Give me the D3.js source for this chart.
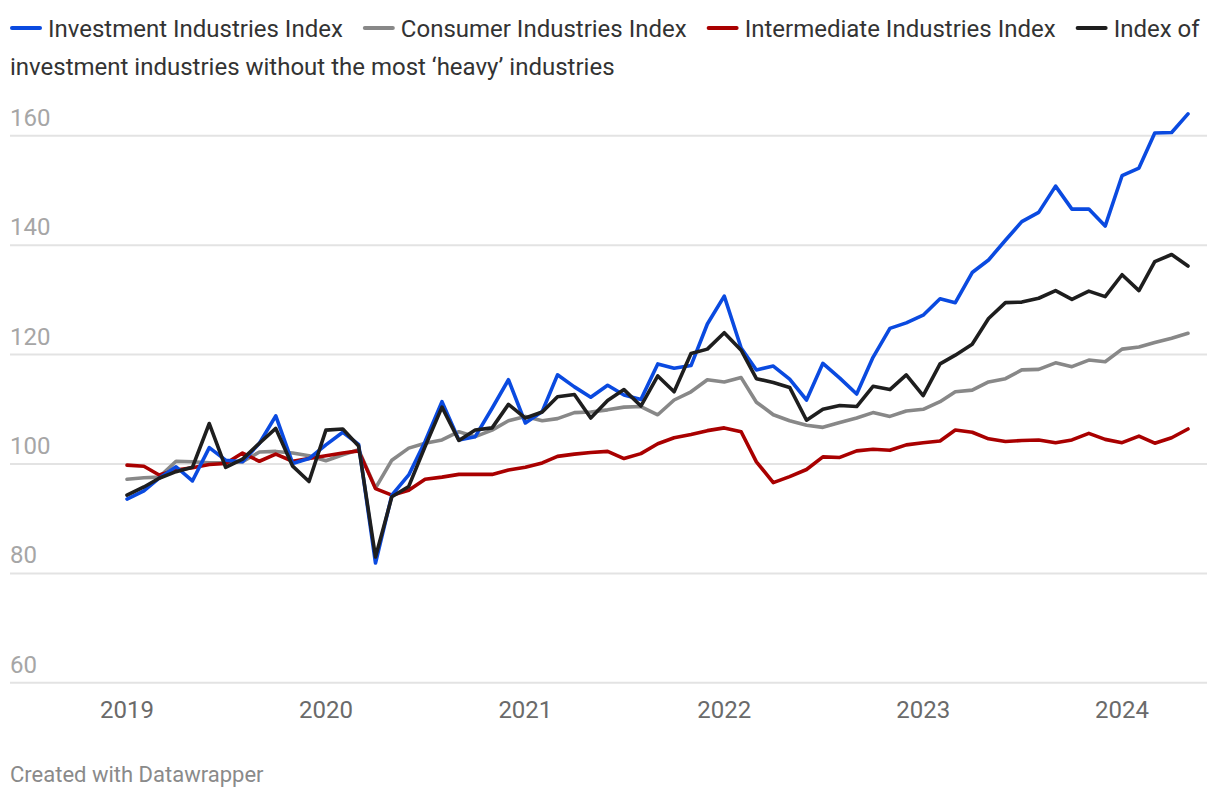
<!DOCTYPE html>
<html>
<head>
<meta charset="utf-8">
<script src="https://cdn.jsdelivr.net/npm/d3@7"></script>
<style>
  html, body { margin: 0; padding: 0; background: #fff; }
  svg { display: block; }
  text { font-family: Roboto, "Noto Sans", sans-serif; }
</style>
</head>
<body>
<svg id="chart" width="1220" height="800"></svg>
<script>
// ---- data ----
const startMonth = "2019-01";
const investment = [93.6,95.1,97.4,99.5,96.9,103.0,100.7,100.4,103.8,108.8,100.1,101.0,103.5,105.8,103.6,81.9,94.3,98.0,104.1,111.4,104.4,105.0,110.2,115.4,107.5,109.6,116.3,114.1,112.2,114.4,112.6,111.8,118.3,117.5,118.0,125.6,130.7,121.2,117.2,117.9,115.5,111.7,118.4,115.7,112.8,119.5,124.8,125.8,127.2,130.2,129.5,135.0,137.3,140.9,144.3,146.0,150.8,146.6,146.6,143.5,152.7,154.1,160.5,160.6,164.0];
const consumer = [97.2,97.5,97.6,100.5,100.4,100.2,100.2,100.4,102.2,102.3,102.0,101.5,100.6,101.7,102.6,95.6,100.7,102.9,103.8,104.4,105.9,105.0,106.2,107.9,108.7,107.9,108.3,109.4,109.5,109.9,110.4,110.5,109.0,111.7,113.2,115.4,115.0,115.8,111.3,109.0,107.9,107.1,106.7,107.6,108.4,109.4,108.7,109.7,110.0,111.4,113.2,113.5,115.0,115.6,117.2,117.3,118.5,117.8,119.0,118.7,121.0,121.4,122.2,123.0,123.9];
const intermediate = [99.8,99.6,98.0,98.9,99.3,99.9,100.1,102.0,100.5,101.8,100.5,101.0,101.5,102.0,102.4,95.5,94.3,95.2,97.2,97.6,98.1,98.1,98.1,98.9,99.4,100.2,101.4,101.8,102.1,102.3,101.0,101.9,103.7,104.8,105.4,106.1,106.6,105.9,100.4,96.6,97.7,99.0,101.3,101.2,102.4,102.7,102.5,103.5,103.9,104.2,106.2,105.8,104.6,104.1,104.3,104.4,103.9,104.4,105.6,104.5,103.9,105.1,103.8,104.8,106.4];
const withoutHeavy = [94.3,95.8,97.4,98.6,99.4,107.4,99.4,100.9,103.8,106.5,99.6,96.8,106.2,106.4,103.3,83.0,94.0,95.9,103.2,110.4,104.3,106.2,106.6,110.9,108.4,109.5,112.3,112.7,108.4,111.6,113.6,110.6,116.1,113.2,120.2,121.0,124.0,120.8,115.6,114.9,114.0,108.0,110.0,110.7,110.5,114.2,113.6,116.3,112.5,118.3,119.9,121.9,126.6,129.5,129.6,130.3,131.7,130.1,131.6,130.6,134.6,131.7,137.0,138.3,136.2];
const seriesNames = ["Investment Industries Index","Consumer Industries Index","Intermediate Industries Index","Index of investment industries without the most ‘heavy’ industries"];
const seriesColors = ["#0a4ae0","#888888","#a90000","#1e1e1e"];
const yTicks = [60,80,100,120,140,160];
const xTickYears = ["2019","2020","2021","2022","2023","2024"];
const footerText = "Created with Datawrapper";

// ---- build ----
const svg = d3.select("#chart");
const parseMonth = d3.timeParse("%Y-%m");
const start = parseMonth(startMonth);
const dates = d3.range(investment.length).map(i => d3.timeMonth.offset(start, i));

const x = d3.scaleTime().domain([start, dates[dates.length - 1]]).range([127, 1188]);
const y = d3.scaleLinear().domain([60, 160]).range([682.8, 135.8]);

// gridlines & y labels
const grid = svg.append("g");
yTicks.forEach(t => {
  grid.append("line")
    .attr("x1", 10).attr("x2", 1207)
    .attr("y1", y(t)).attr("y2", y(t))
    .attr("stroke", "#e3e3e3").attr("stroke-width", 2);
  grid.append("text")
    .attr("x", 10).attr("y", y(t) - 10)
    .attr("fill", "#a6a6a6").attr("font-size", 24)
    .text(t);
});

// x axis labels
const xAxis = svg.append("g");
xTickYears.forEach(yr => {
  xAxis.append("text")
    .attr("x", x(parseMonth(yr + "-01"))).attr("y", 718)
    .attr("text-anchor", "middle")
    .attr("fill", "#6a6a6a").attr("font-size", 24)
    .text(yr);
});

// lines
const series = [
  { values: consumer, color: seriesColors[1] },
  { values: intermediate, color: seriesColors[2] },
  { values: investment, color: seriesColors[0] },
  { values: withoutHeavy, color: seriesColors[3] }
];
const line = d3.line().x((d, i) => x(dates[i])).y(d => y(d));
series.forEach(s => {
  svg.append("path")
    .attr("d", line(s.values))
    .attr("fill", "none")
    .attr("stroke", s.color)
    .attr("stroke-width", 3.6)
    .attr("stroke-linejoin", "round")
    .attr("stroke-linecap", "round");
});

// legend
const legend = svg.append("g");
const fs = 24;
let lx = 10;
const ly1 = 36.5, ly2 = 74.5;
[0,1,2,3].forEach(k => {
  legend.append("line")
    .attr("x1", lx + 2).attr("x2", lx + 30)
    .attr("y1", 28).attr("y2", 28)
    .attr("stroke", seriesColors[k]).attr("stroke-width", 4)
    .attr("stroke-linecap", "round");
  const name = seriesNames[k];
  if (k === 3) {
    const t = legend.append("text").attr("font-size", fs).attr("fill", "#333");
    t.append("tspan").attr("x", lx + 38).attr("y", ly1).text("Index of");
    t.append("tspan").attr("x", 10).attr("y", ly2).text(name.replace("Index of ", ""));
  } else {
    const t = legend.append("text")
      .attr("x", lx + 38).attr("y", ly1)
      .attr("font-size", fs).attr("fill", "#333")
      .text(name);
    lx = lx + 38 + t.node().getComputedTextLength() + 20;
  }
});

// footer
svg.append("text")
  .attr("x", 10).attr("y", 782)
  .attr("fill", "#8a8a8a").attr("font-size", 22)
  .text(footerText);
</script>
</body>
</html>
